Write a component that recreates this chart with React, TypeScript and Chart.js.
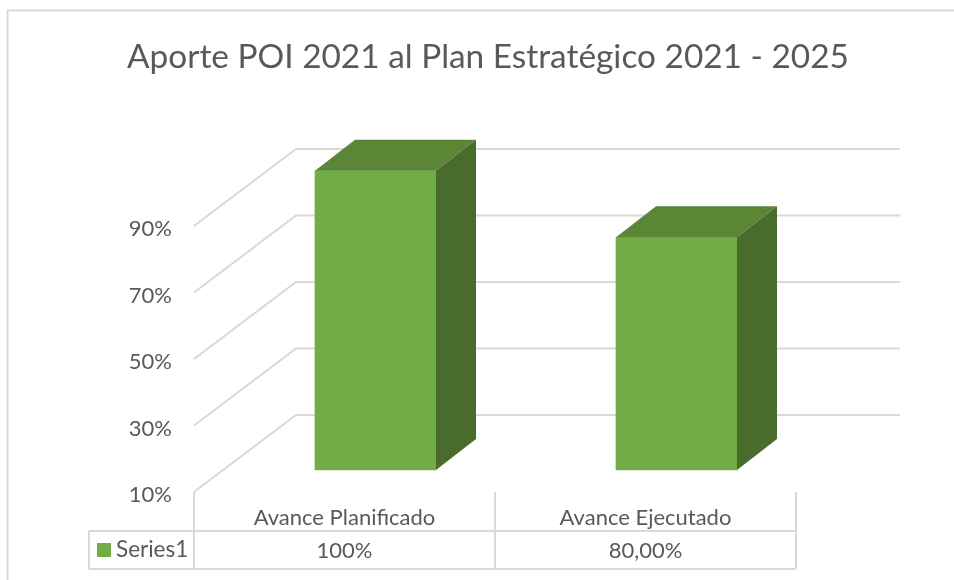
import React, { useEffect, useRef } from "react";
import { Chart, registerables } from "chart.js";

Chart.register(...registerables);

const titleText = "Aporte POI 2021 al Plan Estratégico 2021 - 2025";
const categories = ["Avance Planificado", "Avance Ejecutado"];
const seriesName = "Series1";
const seriesValues = [100, 80];
const tableValues = ["100%", "80,00%"];

const FONT = "Lato, Carlito, sans-serif";
const TEXT = "#595959";
const GRID = "#D9D9D9";
const FRONT = "#70AD47";
const TOP = "#5A8636";
const SIDE = "#496C2C";

const BACK_X = 102;
const BACK_Y = -77;
const BAR_X = 31;
const BAR_Y = -22;
const DEPTH_X = 40;
const DEPTH_Y = -31;
const RIGHT_END = 900;
const TABLE_LEFT = 89;
const TABLE_MID = 531;
const TABLE_BOTTOM = 569;

function line(ctx: CanvasRenderingContext2D, pts: number[][]) {
  ctx.beginPath();
  pts.forEach((p, i) => (i ? ctx.lineTo(p[0], p[1]) : ctx.moveTo(p[0], p[1])));
  ctx.stroke();
}

const scenePlugin = {
  id: "scene3d",
  afterLayout(chart: any) {
    if (chart.titleBlock) {
      chart.titleBlock.left = 0;
      chart.titleBlock.right = 976;
    }
  },
  beforeDraw(chart: any) {
    const ctx = chart.ctx;
    ctx.save();
    ctx.fillStyle = "#fff";
    ctx.fillRect(0, 0, chart.width, chart.height);
    ctx.strokeStyle = GRID;
    ctx.lineWidth = 2;
    line(ctx, [[7.5, chart.height], [7.5, 10.5], [chart.width, 10.5]]);
    ctx.restore();
  },
  beforeDatasetsDraw(chart: any) {
    const ctx = chart.ctx;
    const { x, y } = chart.scales;
    ctx.save();
    ctx.strokeStyle = GRID;
    ctx.lineWidth = 2;
    y.ticks.forEach((t: any) => {
      const py = y.getPixelForValue(t.value);
      line(ctx, [
        [x.left, py],
        [x.left + BACK_X, py + BACK_Y],
        [RIGHT_END, py + BACK_Y],
      ]);
    });
    // data table
    const cell = (x.right - x.left) / categories.length;
    for (let i = 0; i <= categories.length; i++) {
      const vx = x.left + i * cell;
      line(ctx, [[vx, y.bottom], [vx, TABLE_BOTTOM]]);
    }
    line(ctx, [[TABLE_LEFT, TABLE_MID], [x.right, TABLE_MID]]);
    line(ctx, [[TABLE_LEFT, TABLE_BOTTOM], [x.right, TABLE_BOTTOM]]);
    line(ctx, [[TABLE_LEFT, TABLE_MID], [TABLE_LEFT, TABLE_BOTTOM]]);
    // legend key in the table
    ctx.fillStyle = FRONT;
    ctx.fillRect(97, 543, 14, 14);
    ctx.fillStyle = TEXT;
    ctx.font = `22.5px ${FONT}`;
    ctx.textBaseline = "middle";
    ctx.textAlign = "left";
    ctx.fillText(chart.data.datasets[0].label, 116, 550);
    ctx.restore();
    ctx.save();
    ctx.translate(BAR_X, BAR_Y);
  },
  afterDatasetsDraw(chart: any) {
    const ctx = chart.ctx;
    ctx.restore();
    ctx.save();
    chart.getDatasetMeta(0).data.forEach((bar: any) => {
      const l = bar.x - bar.width / 2 + BAR_X;
      const r = bar.x + bar.width / 2 + BAR_X;
      const t = bar.y + BAR_Y;
      const b = bar.base + BAR_Y;
      ctx.fillStyle = TOP;
      ctx.beginPath();
      ctx.moveTo(l, t);
      ctx.lineTo(l + DEPTH_X, t + DEPTH_Y);
      ctx.lineTo(r + DEPTH_X, t + DEPTH_Y);
      ctx.lineTo(r, t);
      ctx.closePath();
      ctx.fill();
      ctx.fillStyle = SIDE;
      ctx.beginPath();
      ctx.moveTo(r, t);
      ctx.lineTo(r + DEPTH_X, t + DEPTH_Y);
      ctx.lineTo(r + DEPTH_X, b + DEPTH_Y);
      ctx.lineTo(r, b);
      ctx.closePath();
      ctx.fill();
    });
    ctx.restore();
  },
};

export default function App() {
  const ref = useRef<HTMLCanvasElement | null>(null);
  useEffect(() => {
    const chart = new Chart(ref.current as HTMLCanvasElement, {
      type: "bar",
      data: {
        labels: categories.map((c, i) => [c, tableValues[i]]),
        datasets: [
          {
            label: seriesName,
            data: seriesValues,
            backgroundColor: FRONT,
            barThickness: 121,
            clip: false,
            base: 10,
          } as any,
        ],
      },
      options: {
        animation: false,
        responsive: false,
        layout: { padding: { left: 0, right: 158, top: 0, bottom: 0 } },
        plugins: {
          legend: { display: false },
          tooltip: { enabled: false },
          title: {
            display: true,
            text: titleText,
            color: TEXT,
            font: { family: FONT, size: 33.4, weight: "normal", lineHeight: 1.2 },
            padding: { top: 37, bottom: 148.9 },
          },
        },
        scales: {
          x: {
            grid: { display: false },
            border: { display: false },
            ticks: {
              color: TEXT,
              font: { family: FONT, size: 22, lineHeight: 1.5 },
              padding: 1,
              maxRotation: 0,
              autoSkip: false,
            },
            afterFit: (s: any) => {
              s.height = 88;
            },
          },
          y: {
            min: 10,
            max: 90,
            grid: { display: false },
            border: { display: false },
            ticks: {
              stepSize: 20,
              color: TEXT,
              font: { family: FONT, size: 22 },
              padding: 14,
              labelOffset: 3,
              callback: (v: any) => `${v}%`,
            },
            afterFit: (s: any) => {
              s.width = 194;
            },
          },
        },
      },
      plugins: [scenePlugin],
    } as any);
    return () => chart.destroy();
  }, []);
  return (
    <div style={{ position: "fixed", left: 0, top: 0, width: 954, height: 580, background: "#fff" }}>
      <canvas ref={ref} width={954} height={580} style={{ display: "block" }} />
    </div>
  );
}
